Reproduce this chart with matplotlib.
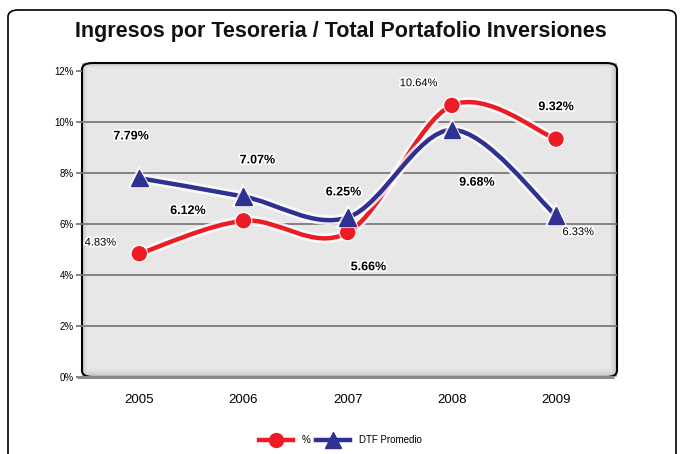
import matplotlib
matplotlib.use("Agg")
import matplotlib.pyplot as plt
import numpy as np
from matplotlib.path import Path
from matplotlib.patches import PathPatch, FancyBboxPatch
from matplotlib.lines import Line2D
import matplotlib.patheffects as pe

plt.rcParams['font.family'] = ['Liberation Sans', 'DejaVu Sans']

years = [2005, 2006, 2007, 2008, 2009]
pct = [4.83, 6.12, 5.66, 10.64, 9.32]
dtf = [7.79, 7.07, 6.25, 9.68, 6.33]
pct_labels = ["4.83%", "6.12%", "5.66%", "10.64%", "9.32%"]
dtf_labels = ["7.79%", "7.07%", "6.25%", "9.68%", "6.33%"]
yticks = [0, 2, 4, 6, 8, 10, 12]
ytick_labels = ["0%", "2%", "4%", "6%", "8%", "10%", "12%"]
title = "Ingresos por Tesoreria / Total Portafolio Inversiones"

RED = "#ec1c24"
BLUE = "#2e3192"

W, H = 681, 454
fig = plt.figure(figsize=(W / 100, H / 100), dpi=100)

# outer rounded frame
frame = FancyBboxPatch((8 / W, -0.1), (676 - 8) / W, (H - 10) / H + 0.1,
                       boxstyle="round,pad=0,rounding_size=0.015",
                       transform=fig.transFigure, facecolor="none",
                       edgecolor="black", linewidth=1.2, zorder=-5)
fig.patches.append(frame)

fig.text(0.5, 1 - 32 / H, title, ha="center", va="center",
         fontsize=15.5, fontweight="bold", color="#111111")

left, right, top, bottom = 82, 617, 63, 377
aw, ah = right - left, bottom - top
ax = fig.add_axes([left / W, 1 - bottom / H, aw / W, ah / H])
ax.set_xlim(2004.45, 2009.585)
ax.set_ylim(0, 12.3)
ax.set_facecolor("none")
for s in ax.spines.values():
    s.set_visible(False)

# plot background with soft inner shadow (pixel based)
px_y, px_x = np.mgrid[0:ah, 0:aw]
d_left = px_x
d_right = aw - 1 - px_x
d_top = px_y
d_bot = ah - 1 - px_y
edge = np.minimum.reduce([d_left * 1.4, d_right, d_top * 1.6, d_bot * 0.9])
shade = np.clip(edge / 7.0, 0, 1) ** 0.7
img = 0.74 + 0.165 * shade
ax.imshow(img, cmap="gray", vmin=0, vmax=1, extent=[0, 1, 0, 1], origin="upper",
          transform=ax.transAxes, aspect="auto", zorder=0, interpolation="bilinear")
border = FancyBboxPatch((0, 0), 1, 1, boxstyle="round,pad=0,rounding_size=0.02",
                        transform=ax.transAxes, facecolor="none",
                        edgecolor="black", linewidth=1.5, zorder=1, clip_on=False)
ax.add_patch(border)

# gridlines
for t in yticks[1:-1]:
    ax.axhline(t, color="#7a7a7a", linewidth=1.3, zorder=1.5)
ax.plot([-0.01, 0.995], [0, 0], transform=ax.transAxes, color="#8a8a8a",
        linewidth=2.2, zorder=1.6, clip_on=False, solid_capstyle="butt")

ax.set_yticks(yticks)
ax.set_yticklabels(ytick_labels, fontsize=7)
ax.tick_params(axis="y", length=4, color="#7a7a7a", width=1.3, pad=2)
ax.set_xticks(years)
ax.set_xticklabels([str(y) for y in years], fontsize=9.5)
ax.tick_params(axis="x", length=0, pad=12)


def smooth_path(xs, ys, tension=1 / 6):
    pts = list(zip(xs, ys))
    verts = [pts[0]]
    codes = [Path.MOVETO]
    n = len(pts)
    for i in range(n - 1):
        p0 = pts[i - 1] if i > 0 else pts[i]
        p1 = pts[i]
        p2 = pts[i + 1]
        p3 = pts[i + 2] if i + 2 < n else pts[i + 1]
        c1 = (p1[0] + (p2[0] - p0[0]) * tension, p1[1] + (p2[1] - p0[1]) * tension)
        c2 = (p2[0] - (p3[0] - p1[0]) * tension, p2[1] - (p3[1] - p1[1]) * tension)
        verts += [c1, c2, p2]
        codes += [Path.CURVE4] * 3
    return Path(verts, codes)


glow = [pe.withStroke(linewidth=7, foreground="white", alpha=0.8)]
for ys, col, z in [(pct, RED, 3), (dtf, BLUE, 4)]:
    patch = PathPatch(smooth_path(years, ys), facecolor="none", edgecolor=col,
                      linewidth=3.2, zorder=z, capstyle="round", joinstyle="round")
    patch.set_path_effects(glow)
    ax.add_patch(patch)

ax.plot(years, pct, linestyle="none", marker="o", markersize=10, color=RED,
        zorder=5, path_effects=[pe.withStroke(linewidth=3, foreground="white", alpha=0.8)])
ax.plot(years, dtf, linestyle="none", marker="^", markersize=12, color=BLUE,
        zorder=6, path_effects=[pe.withStroke(linewidth=3, foreground="white", alpha=0.8)])

# data labels (offsets in points)
txt_glow = [pe.withStroke(linewidth=2.5, foreground="white")]
pct_offsets = [(-28, 8, "normal"), (-40, 7, "bold"), (15, -25, "bold"), (-24, 16, "normal"), (0, 23, "bold")]
dtf_offsets = [(-6, 30, "bold"), (10, 26, "bold"), (-3, 18, "bold"), (18, -38, "bold"), (16, -12, "normal")]
for x, y, lab, (dx, dy, w) in zip(years, pct, pct_labels, pct_offsets):
    ax.annotate(lab, (x, y), xytext=(dx, dy), textcoords="offset points",
                ha="center", va="center", fontsize=9 if w == "bold" else 8,
                fontweight=w, color="black", zorder=8, path_effects=txt_glow)
for x, y, lab, (dx, dy, w) in zip(years, dtf, dtf_labels, dtf_offsets):
    ax.annotate(lab, (x, y), xytext=(dx, dy), textcoords="offset points",
                ha="center", va="center", fontsize=9 if w == "bold" else 8,
                fontweight=w, color="black", zorder=8, path_effects=txt_glow)

handles = [Line2D([], [], color=RED, linewidth=3.2, marker="o", markersize=10),
           Line2D([], [], color=BLUE, linewidth=3.2, marker="^", markersize=11)]
fig.legend(handles, ["%", "DTF Promedio"], loc="center",
           bbox_to_anchor=(0.5, 1 - 440 / H), ncol=2, frameon=False, fontsize=7,
           handlelength=3.5, columnspacing=0.6, handletextpad=0.9)

fig.savefig("out.png", dpi=100)
